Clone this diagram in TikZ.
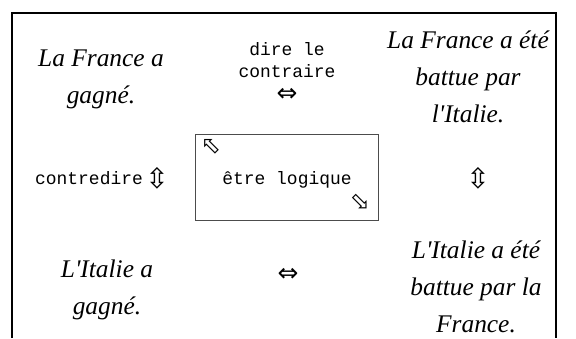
\documentclass[tikz,border=0pt]{standalone}
\usepackage{fontspec}
\setmainfont{Liberation Serif}
\setmonofont{Liberation Mono}
\newfontfamily\symfont{DejaVu Sans}
\tikzset{
  prop/.style={inner sep=0pt, align=center, font=\fontsize{25.5}{37}\selectfont\itshape},
  verb/.style={inner sep=0pt, align=center, font=\fontsize{18}{22}\selectfont\ttfamily},
  glyph/.style={inner sep=0pt, font=\fontsize{#1}{#1}\selectfont\symfont},
  frameline/.style={draw=black, line width=2bp},
  logicbox/.style={draw=black!70, line width=1bp, minimum width=183bp, minimum height=86bp, inner sep=0pt},
}
\begin{document}
\begin{tikzpicture}[x=1bp,y=-1bp]
\useasboundingbox (0,0) rectangle (576,338);
\draw[frameline] (12,338) -- (12,13) -- (556,13) -- (556,338);
% row 1
\node[prop] (fg) at (101,78) {\strut La France a\\\strut gagné.};
\node[verb] (dire) at (287,62) {\strut dire le\\\strut contraire};
\node[glyph=25] (eqtop) at (287,95) {⇔};
\node[prop] (fb) at (468,78) {\strut La France a été\\\strut battue par\\\strut l\textquotesingle Italie.};
% row 2
\node[verb, anchor=base west] (contr) at (35,184) {contredire};
\node[glyph=28] (udl) at (157,178) {⇳};
\node[logicbox] (logic) at (286.5,177) {};
\node[verb, anchor=base] (etre) at (287,184) {être logique};
\node[glyph=24] (nw) at (211,147) {⬁};
\node[glyph=24] (se) at (360,202) {⬂};
\node[glyph=28] (udr) at (478,178) {⇳};
% row 3
\node[prop] (ig) at (107,289) {\strut L\textquotesingle Italie a\\\strut gagné.};
\node[glyph=25] (eqbot) at (288,275) {⇔};
\node[prop] (ib) at (476,288) {\strut L\textquotesingle Italie a été\\\strut battue par la\\\strut France.};
\end{tikzpicture}
\end{document}
